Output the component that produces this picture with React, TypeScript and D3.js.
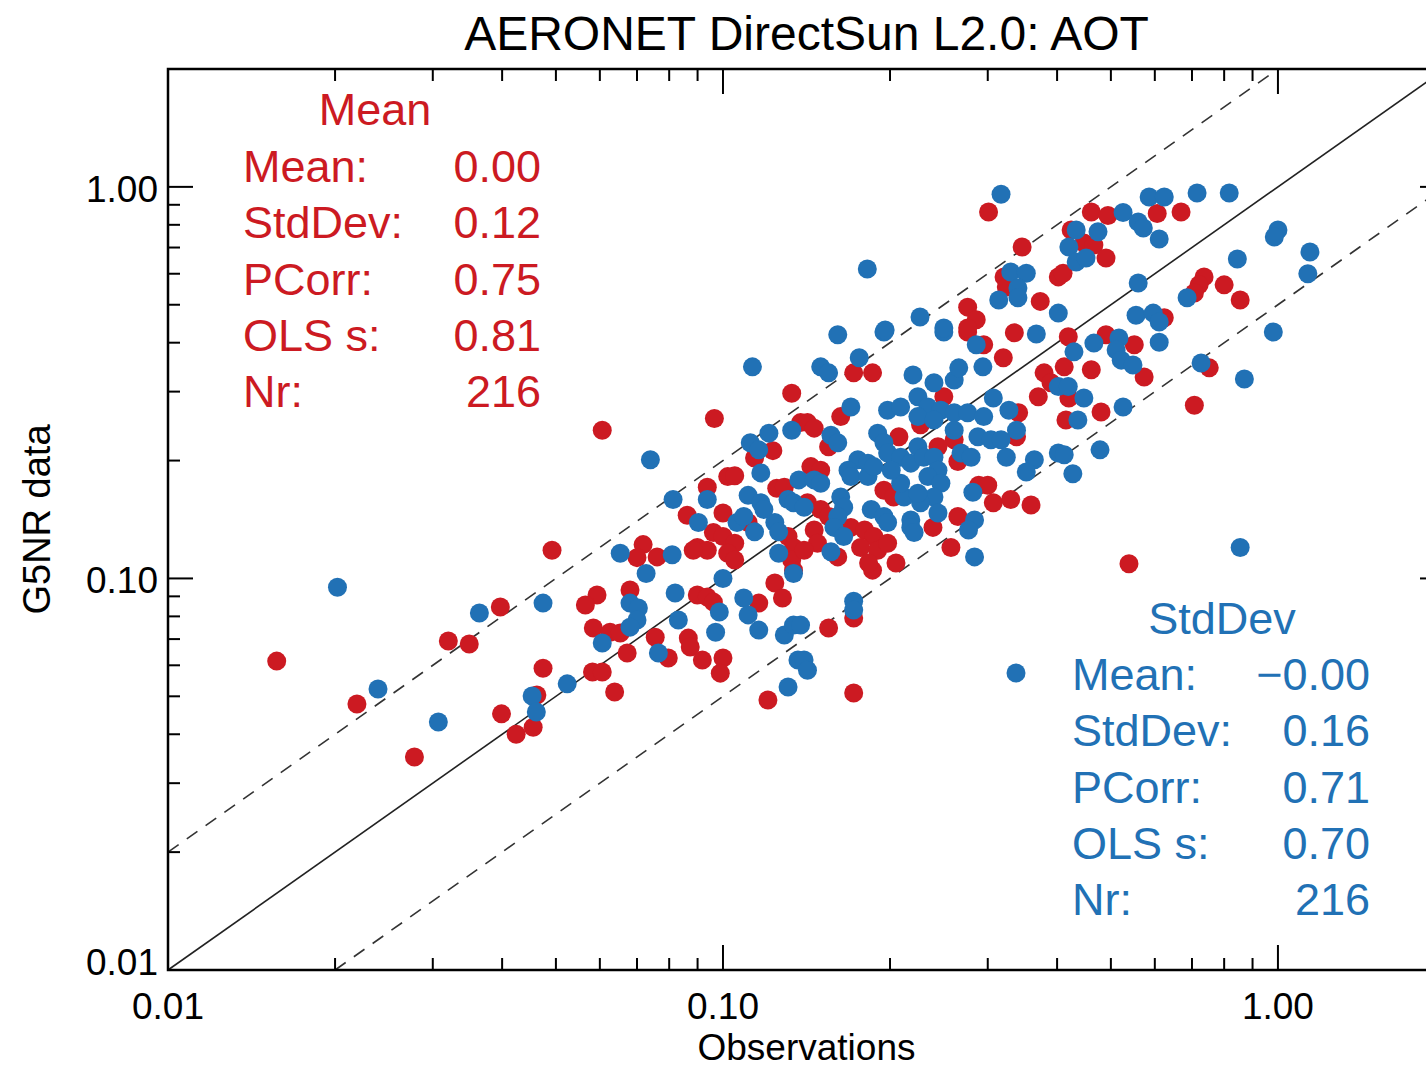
import React from "react";
import * as d3 from "d3";

// Plot text
const TITLE = "AERONET DirectSun L2.0: AOT";
const X_LABEL = "Observations";
const Y_LABEL = "G5NR data";

// Log axis: both axes span 0.01 .. 2
const AXIS_DOMAIN: [number, number] = [0.01, 2];
const MAJOR_TICKS = [0.01, 0.1, 1];
const MAJOR_LABELS = ["0.01", "0.10", "1.00"];

// Legend blocks
const MEAN_TITLE = "Mean";
const MEAN_STATS: [string, string][] = [
  ["Mean:", "0.00"],
  ["StdDev:", "0.12"],
  ["PCorr:", "0.75"],
  ["OLS s:", "0.81"],
  ["Nr:", "216"],
];
const STD_TITLE = "StdDev";
const STD_STATS: [string, string][] = [
  ["Mean:", "\u22120.00"],
  ["StdDev:", "0.16"],
  ["PCorr:", "0.71"],
  ["OLS s:", "0.70"],
  ["Nr:", "216"],
];

// [observation, model] pairs, red series
const meanPoints: [number, number][] = [
  [0.0157, 0.0615], [0.0219, 0.0478], [0.0278, 0.035], [0.032, 0.0692], [0.0349, 0.068],
  [0.0397, 0.0845], [0.0399, 0.0451], [0.0424, 0.04], [0.0455, 0.0417], [0.0462, 0.0504],
  [0.0474, 0.059], [0.0492, 0.118], [0.0606, 0.239], [0.0965, 0.256], [0.133, 0.297],
  [0.138, 0.25], [0.123, 0.212], [0.114, 0.203], [0.102, 0.182], [0.105, 0.183],
  [0.0937, 0.171], [0.0862, 0.145], [0.1, 0.147], [0.125, 0.17], [0.129, 0.171],
  [0.111, 0.139], [0.0961, 0.131], [0.1, 0.128], [0.105, 0.123], [0.0899, 0.12],
  [0.0937, 0.118], [0.102, 0.116], [0.0884, 0.118], [0.0718, 0.122], [0.0761, 0.1135],
  [0.07, 0.113], [0.131, 0.128], [0.134, 0.12], [0.105, 0.1115],
  [0.133, 0.1115], [0.134, 0.105], [0.124, 0.0973], [0.128, 0.0891], [0.0593, 0.0907],
  [0.0565, 0.0855], [0.068, 0.0934], [0.0584, 0.0747], [0.0626, 0.0729], [0.0653, 0.0725],
  [0.0672, 0.0645], [0.0899, 0.0907], [0.0937, 0.0896], [0.0961, 0.087], [0.0755, 0.0708],
  [0.0797, 0.0626], [0.0866, 0.0704], [0.0873, 0.0668], [0.0918, 0.0619], [0.1, 0.0626],
  [0.0989, 0.0573], [0.116, 0.0865], [0.0582, 0.0577], [0.0606, 0.0577], [0.0638, 0.0513],
  [0.1205, 0.0489], [0.276, 0.426], [0.335, 0.424], [0.295, 0.395], [0.32, 0.366],
  [0.172, 0.335], [0.186, 0.335], [0.379, 0.335], [0.39, 0.316], [0.37, 0.291],
  [0.163, 0.259], [0.142, 0.25], [0.146, 0.242], [0.25, 0.291], [0.227, 0.247],
  [0.341, 0.265], [0.338, 0.23], [0.261, 0.226], [0.265, 0.199], [0.244, 0.217],
  [0.155, 0.217], [0.2075, 0.23], [0.144, 0.193], [0.15, 0.189], [0.195, 0.168],
  [0.203, 0.1615], [0.142, 0.156], [0.15, 0.15], [0.146, 0.133], [0.155, 0.144],
  [0.17, 0.135], [0.18, 0.133], [0.187, 0.128], [0.177, 0.12], [0.19, 0.118],
  [0.198, 0.123], [0.148, 0.123], [0.14, 0.118], [0.161, 0.1135], [0.239, 0.135],
  [0.265, 0.144], [0.2575, 0.12], [0.289, 0.173], [0.3, 0.173], [0.307, 0.156],
  [0.33, 0.159], [0.359, 0.154], [0.186, 0.105], [0.183, 0.1095], [0.205, 0.1095],
  [0.172, 0.0792], [0.155, 0.0747], [0.172, 0.051], [0.301, 0.863], [0.346, 0.702],
  [0.321, 0.589], [0.324, 0.555], [0.402, 0.589], [0.373, 0.51], [0.276, 0.493],
  [0.286, 0.458], [0.276, 0.436], [0.461, 0.863], [0.494, 0.845], [0.606, 0.855],
  [0.669, 0.863], [0.424, 0.776], [0.447, 0.719], [0.466, 0.71], [0.49, 0.658],
  [0.41, 0.602], [0.736, 0.589], [0.721, 0.562], [0.707, 0.536], [0.8, 0.562],
  [0.855, 0.514], [0.624, 0.463], [0.419, 0.414], [0.49, 0.419], [0.551, 0.395],
  [0.574, 0.327], [0.412, 0.347], [0.461, 0.341], [0.752, 0.345], [0.42, 0.289],
  [0.48, 0.266], [0.707, 0.277], [0.415, 0.254], [0.539, 0.109],
];

// [observation, model] pairs, blue series
const stdPoints: [number, number][] = [
  [0.0202, 0.095], [0.0239, 0.0522], [0.0307, 0.043], [0.0364, 0.0816], [0.0474, 0.0865],
  [0.0453, 0.0501], [0.0461, 0.0456], [0.0524, 0.0538], [0.113, 0.347], [0.074, 0.201],
  [0.121, 0.235], [0.133, 0.239], [0.112, 0.222], [0.116, 0.213], [0.117, 0.186],
  [0.0937, 0.159], [0.0813, 0.159], [0.0903, 0.139], [0.106, 0.139], [0.109, 0.144],
  [0.111, 0.163], [0.117, 0.156], [0.1185, 0.15], [0.131, 0.159], [0.134, 0.156],
  [0.137, 0.1785], [0.124, 0.139], [0.126, 0.1315], [0.114, 0.1315], [0.0653, 0.116],
  [0.081, 0.115], [0.126, 0.116], [0.0727, 0.103], [0.1, 0.1], [0.134, 0.103],
  [0.068, 0.0865], [0.0704, 0.084], [0.07, 0.0783], [0.068, 0.0751], [0.0606, 0.0684],
  [0.082, 0.0918], [0.0985, 0.0821], [0.0831, 0.0783], [0.0765, 0.0645], [0.097, 0.0729],
  [0.109, 0.0891], [0.111, 0.0807], [0.116, 0.0738], [0.129, 0.0717], [0.134, 0.076],
  [0.131, 0.0528], [0.1365, 0.0619], [0.161, 0.419], [0.195, 0.426], [0.25, 0.426],
  [0.367, 0.421], [0.286, 0.395], [0.294, 0.347], [0.15, 0.347], [0.155, 0.335],
  [0.176, 0.366], [0.22, 0.331], [0.24, 0.316], [0.261, 0.321], [0.266, 0.345],
  [0.402, 0.309], [0.17, 0.274], [0.198, 0.269], [0.209, 0.274], [0.2245, 0.291],
  [0.234, 0.274], [0.2245, 0.259], [0.247, 0.269], [0.261, 0.265], [0.24, 0.254],
  [0.276, 0.265], [0.295, 0.259], [0.307, 0.289], [0.3275, 0.269], [0.338, 0.239],
  [0.261, 0.239], [0.288, 0.23], [0.304, 0.226], [0.317, 0.226], [0.2685, 0.209],
  [0.28, 0.204], [0.324, 0.204], [0.364, 0.201], [0.352, 0.187], [0.1565, 0.232],
  [0.161, 0.222], [0.19, 0.235], [0.195, 0.222], [0.175, 0.201], [0.1825, 0.197],
  [0.168, 0.189], [0.17, 0.182], [0.1825, 0.182], [0.187, 0.193], [0.198, 0.209],
  [0.209, 0.204], [0.218, 0.197], [0.2245, 0.217], [0.23, 0.204], [0.24, 0.204],
  [0.244, 0.189], [0.234, 0.182], [0.247, 0.175], [0.24, 0.1615], [0.227, 0.156],
  [0.212, 0.1615], [0.2245, 0.165], [0.218, 0.141], [0.244, 0.147], [0.209, 0.175],
  [0.201, 0.189], [0.146, 0.1785], [0.15, 0.175], [0.163, 0.1615], [0.165, 0.152],
  [0.161, 0.144], [0.185, 0.15], [0.195, 0.144], [0.198, 0.139], [0.1585, 0.135],
  [0.165, 0.128], [0.218, 0.135], [0.221, 0.131], [0.1565, 0.117], [0.14, 0.152],
  [0.282, 0.166], [0.284, 0.141], [0.277, 0.133], [0.284, 0.1135], [0.402, 0.209],
  [0.172, 0.0875], [0.172, 0.083], [0.138, 0.076], [0.14, 0.0619], [0.142, 0.0583],
  [0.317, 0.958], [0.182, 0.617], [0.33, 0.606], [0.352, 0.602], [0.34, 0.552],
  [0.34, 0.521], [0.314, 0.514], [0.402, 0.476], [0.2265, 0.465], [0.25, 0.436],
  [0.196, 0.431], [0.586, 0.942], [0.624, 0.942], [0.715, 0.965], [0.817, 0.965],
  [0.526, 0.86], [0.56, 0.813], [0.572, 0.785], [0.611, 0.736], [0.433, 0.776],
  [0.474, 0.768], [0.42, 0.702], [0.433, 0.643], [0.451, 0.658], [1.0, 0.776],
  [0.985, 0.745], [1.142, 0.682], [1.132, 0.6], [0.845, 0.654], [0.686, 0.521],
  [0.56, 0.568], [0.555, 0.47], [0.596, 0.476], [0.611, 0.452], [0.429, 0.379],
  [0.466, 0.399], [0.517, 0.411], [0.511, 0.383], [0.522, 0.361], [0.548, 0.351],
  [0.611, 0.401], [0.727, 0.355], [0.981, 0.426], [0.87, 0.323], [0.419, 0.309],
  [0.447, 0.289], [0.526, 0.274], [0.436, 0.254], [0.478, 0.213], [0.412, 0.207],
  [0.427, 0.185], [0.855, 0.12],
];

const RED = "#cc1a22";
const BLUE = "#2171b5";
const FONT = "'Liberation Sans', Arial, Helvetica, sans-serif";

export default function App() {
  const W = 1426;
  const H = 1068;
  const left = 168;
  const right = 1445;
  const top = 69;
  const bottom = 970;

  const x = d3.scaleLog().domain(AXIS_DOMAIN).range([left, right]);
  const y = d3.scaleLog().domain(AXIS_DOMAIN).range([bottom, top]);

  const minorTicks: number[] = [];
  for (const dec of MAJOR_TICKS) {
    for (let k = 2; k <= 9; k++) {
      const v = +(k * dec).toPrecision(3);
      if (v <= AXIS_DOMAIN[1]) minorTicks.push(v);
    }
  }

  const line = d3
    .line<[number, number]>()
    .x((d) => x(d[0]))
    .y((d) => y(d[1]));

  const oneToOne: [number, number][] = [[0.01, 0.01], [2, 2]];
  const upper: [number, number][] = [[0.01, 0.02], [1, 2]];
  const lower: [number, number][] = [[0.02, 0.01], [2, 1]];

  const MAJ = 25;
  const MIN = 12;
  const tickStroke = "#000";

  const rowGap = 56.3;

  return (
    <svg
      width={W}
      height={H}
      style={{ position: "absolute", left: 0, top: 0, background: "#fff" }}
      fontFamily={FONT}
    >
      <rect x={0} y={0} width={W} height={H} fill="#fff" />

      {/* reference lines */}
      <path d={line(oneToOne) || ""} stroke="#222" strokeWidth={1.6} fill="none" />
      <path d={line(upper) || ""} stroke="#333" strokeWidth={1.6} strokeDasharray="13,10" fill="none" />
      <path d={line(lower) || ""} stroke="#333" strokeWidth={1.6} strokeDasharray="13,10" fill="none" />

      {/* points */}
      <g fill={RED}>
        {meanPoints.map((d, i) => (
          <circle key={"r" + i} cx={x(d[0])} cy={y(d[1])} r={9.5} />
        ))}
      </g>
      <g fill={BLUE}>
        {stdPoints.map((d, i) => (
          <circle key={"b" + i} cx={x(d[0])} cy={y(d[1])} r={9.5} />
        ))}
      </g>

      {/* frame */}
      <rect
        x={left}
        y={top}
        width={right - left}
        height={bottom - top}
        fill="none"
        stroke="#000"
        strokeWidth={2.5}
      />

      {/* ticks */}
      <g stroke={tickStroke} strokeWidth={2}>
        {MAJOR_TICKS.map((t) => (
          <g key={"M" + t}>
            <line x1={x(t)} x2={x(t)} y1={bottom} y2={bottom - MAJ} />
            <line x1={x(t)} x2={x(t)} y1={top} y2={top + MAJ} />
            <line x1={left} x2={left + MAJ} y1={y(t)} y2={y(t)} />
            <line x1={right} x2={right - MAJ} y1={y(t)} y2={y(t)} />
          </g>
        ))}
        {minorTicks.map((t) => (
          <g key={"m" + t}>
            <line x1={x(t)} x2={x(t)} y1={bottom} y2={bottom - MIN} />
            <line x1={x(t)} x2={x(t)} y1={top} y2={top + MIN} />
            <line x1={left} x2={left + MIN} y1={y(t)} y2={y(t)} />
            <line x1={right} x2={right - MIN} y1={y(t)} y2={y(t)} />
          </g>
        ))}
      </g>

      {/* tick labels */}
      <g fontSize={37} fill="#000">
        {MAJOR_TICKS.map((t, i) => (
          <text key={"xl" + t} x={x(t)} y={1019} textAnchor="middle">
            {MAJOR_LABELS[i]}
          </text>
        ))}
        {MAJOR_TICKS.map((t, i) => (
          <text key={"yl" + t} x={158} y={Math.min(y(t) + 15, bottom + 5)} textAnchor="end">
            {MAJOR_LABELS[i]}
          </text>
        ))}
      </g>

      {/* axis titles */}
      <text x={(left + right) / 2} y={1060} textAnchor="middle" fontSize={37} fill="#000">
        {X_LABEL}
      </text>
      <text
        transform={`translate(50, ${(top + bottom) / 2}) rotate(-90)`}
        textAnchor="middle"
        fontSize={38}
        fill="#000"
      >
        {Y_LABEL}
      </text>

      {/* title */}
      <text x={(left + right) / 2} y={50} textAnchor="middle" fontSize={48} fill="#000">
        {TITLE}
      </text>

      {/* red legend */}
      <g fill={RED} fontSize={45}>
        <text x={375} y={125} textAnchor="middle">
          {MEAN_TITLE}
        </text>
        {MEAN_STATS.map((r, i) => (
          <g key={"ml" + i}>
            <text x={243} y={182 + i * rowGap}>
              {r[0]}
            </text>
            <text x={541} y={182 + i * rowGap} textAnchor="end">
              {r[1]}
            </text>
          </g>
        ))}
      </g>

      {/* blue legend */}
      <g fill={BLUE} fontSize={45}>
        <text x={1222} y={634} textAnchor="middle">
          {STD_TITLE}
        </text>
        <circle cx={1016} cy={673} r={9.5} />
        {STD_STATS.map((r, i) => (
          <g key={"sl" + i}>
            <text x={1072} y={690 + i * rowGap}>
              {r[0]}
            </text>
            <text x={1370} y={690 + i * rowGap} textAnchor="end">
              {r[1]}
            </text>
          </g>
        ))}
      </g>
    </svg>
  );
}
